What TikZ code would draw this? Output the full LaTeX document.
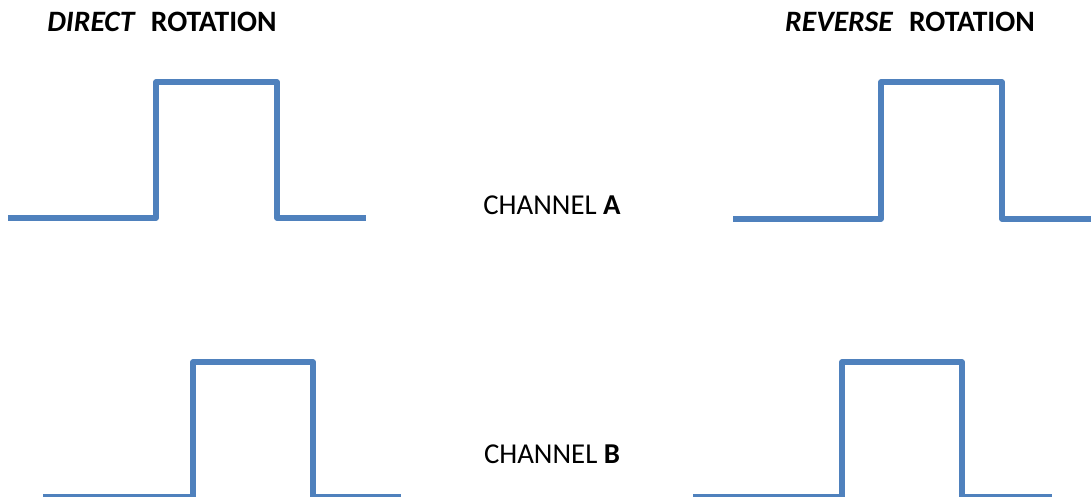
\documentclass[tikz,border=0pt]{standalone}
\usepackage{fontspec}
\setmainfont{Carlito}
\usepackage{xcolor}
\definecolor{pulseblue}{HTML}{4F81BD}

\begin{document}
\begin{tikzpicture}[x=0.5pt, y=-0.5pt,
        pulse/.style={draw=pulseblue, line width=2.7pt, line join=round},
        label/.style={font=\fontsize{14.4}{16}\selectfont, inner sep=0pt},
        title/.style={font=\fontsize{14.8}{17}\selectfont\bfseries, inner sep=0pt}]
        \useasboundingbox (0, 0) rectangle (1091, 497);
        \clip (0, 0) rectangle (1091, 497);
        % Titles
        \node[title] (direct) at (162, 22) {\itshape DIRECT\hspace{0.55em}\upshape ROTATION};
        \node[title] (reverse) at (910, 22) {\itshape REVERSE\hspace{0.55em}\upshape ROTATION};
        \node[label] (chA) at (552, 205) {CHANNEL \textbf{A}};
        \node[label] (chB) at (552, 454) {CHANNEL \textbf{B}};
        % Channel A
        \draw[pulse] (8, 218) -- (156, 218) -- (156, 82) -- (277, 82) -- (277, 218) -- (366, 218);
        \draw[pulse] (733, 219) -- (881, 219) -- (881, 82) -- (1002, 82) -- (1002, 219) -- (1091, 219);
        % Channel B
        \draw[pulse] (43, 497) -- (193, 497) -- (193, 362) -- (313, 362) -- (313, 497) -- (401, 497);
        \draw[pulse] (693, 497) -- (842, 497) -- (842, 362) -- (962, 362) -- (962, 497) -- (1052, 497);
    \end{tikzpicture}
\end{document}
